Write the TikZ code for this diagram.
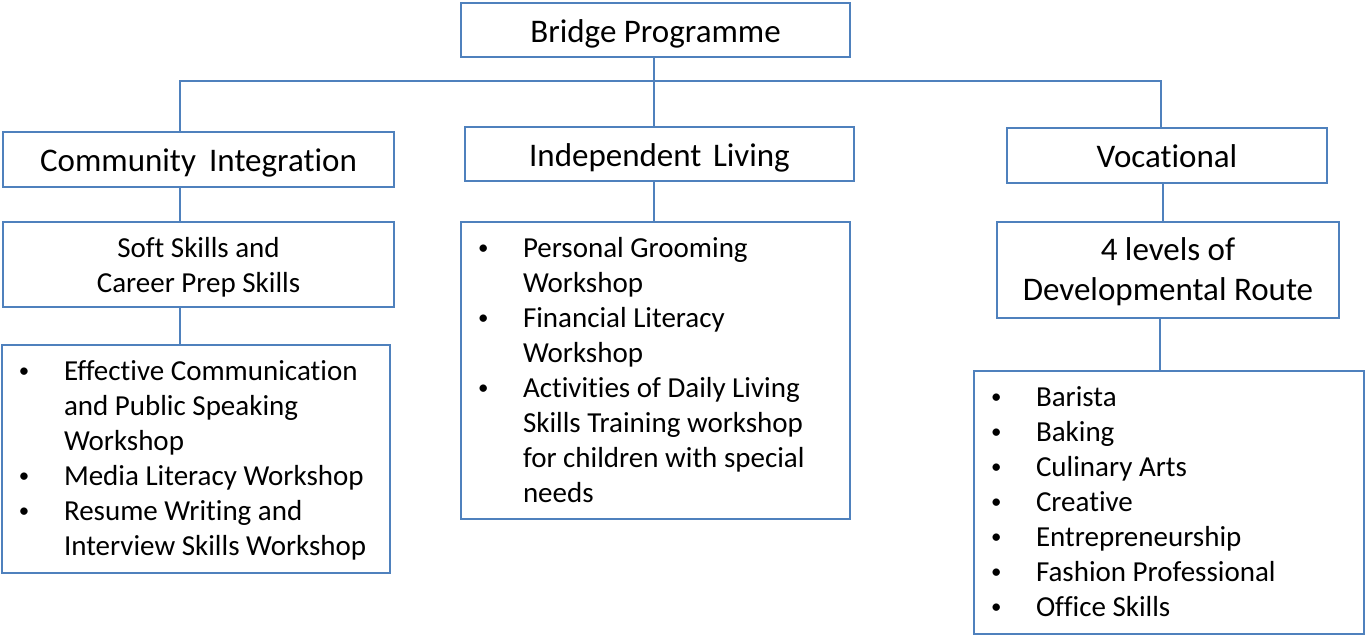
\documentclass[tikz,border=0pt]{standalone}
\usepackage{graphicx}
\usepackage{fontspec}
\setmainfont{Carlito}[Ligatures=NoCommon]
\definecolor{boxblue}{HTML}{4F81BD}
\newcommand{\bul}{\raisebox{2.5pt}{\scalebox{0.72}{\textbullet}}}
\newcommand{\blist}[2]{\begin{tabular}[t]{@{\hspace{17pt}}p{45pt}@{}p{#1}@{}}#2\end{tabular}}
\newcommand{\clist}[1]{\begin{tabular}[t]{@{}c@{}}#1\end{tabular}}
\begin{document}
\begin{tikzpicture}[x=1pt,y=-1pt,
  box/.style={draw=boxblue,line width=2pt,rectangle,inner sep=0pt},
  head/.style={box,font=\fontsize{33}{40}\selectfont,text height=24pt,text depth=0pt},
  small/.style={font=\fontsize{29}{35}\selectfont},
  link/.style={draw=boxblue,line width=2pt}]
\useasboundingbox (0,0) rectangle (1365,641);
\fill[white] (0,0) rectangle (1365,641);

\node[head,minimum width=389pt,minimum height=54pt] (bridge) at (655.5,30) {Bridge Programme};
\node[head,minimum width=391pt,minimum height=55pt] (ci) at (198.5,159.5) {Community\hspace{0.4em}Integration};
\node[head,minimum width=389pt,minimum height=54pt] (il) at (659.5,154) {Independent\hspace{0.35em}Living};
\node[head,minimum width=320pt,minimum height=55pt] (voc) at (1167,155.5) {Vocational};

\node[box,small,minimum width=391pt,minimum height=85pt,text height=24pt,text depth=39pt] (soft) at (198.5,264.5)
  {\clist{Soft Skills and\\Career Prep Skills}};
\node[box,minimum width=342pt,minimum height=96pt,text height=24pt,text depth=44pt,font=\fontsize{33}{40}\selectfont] (levels) at (1168,270)
  {\clist{4 levels of\\Developmental Route}};

\node[box,small,minimum width=388pt,minimum height=228pt,text height=24pt,text depth=182pt] (cilist) at (196,459) {%
\blist{326pt}{%
\bul & Effective Communication\\
 & and Public Speaking\\
 & Workshop\\
\bul & Media Literacy Workshop\\
\bul & Resume Writing and\\
 & Interview Skills Workshop}};

\node[box,small,minimum width=389pt,minimum height=297pt,text height=24pt,text depth=251pt] (illist) at (655.5,370.5) {%
\blist{327pt}{%
\bul & Personal Grooming\\
 & Workshop\\
\bul & Financial Literacy\\
 & Workshop\\
\bul & Activities of Daily Living\\
 & Skills Training workshop\\
 & for children with special\\
 & needs}};

\node[box,small,minimum width=390pt,minimum height=263pt,text height=24pt,text depth=217pt] (voclist) at (1169,502.5) {%
\blist{328pt}{%
\bul & Barista\\
\bul & Baking\\
\bul & Culinary Arts\\
\bul & Creative\\
\bul & Entrepreneurship\\
\bul & Fashion Professional\\
\bul & Office Skills}};

\coordinate (xci) at (180,0);
\coordinate (xvoc) at (1161,0);
\coordinate (xlev) at (1163,0);
\coordinate (xvl) at (1160,0);
\coordinate (hub) at (654,81);

\draw[link] (bridge.south -| hub) -- (il.north -| hub);
\draw[link] (ci.north -| xci) |- (hub) -| (voc.north -| xvoc);
\draw[link] (ci.south -| xci) -- (soft.north -| xci);
\draw[link] (soft.south -| xci) -- (cilist.north -| xci);
\draw[link] (il.south -| hub) -- (illist.north -| hub);
\draw[link] (voc.south -| xlev) -- (levels.north -| xlev);
\draw[link] (levels.south -| xvl) -- (voclist.north -| xvl);
\end{tikzpicture}
\end{document}
